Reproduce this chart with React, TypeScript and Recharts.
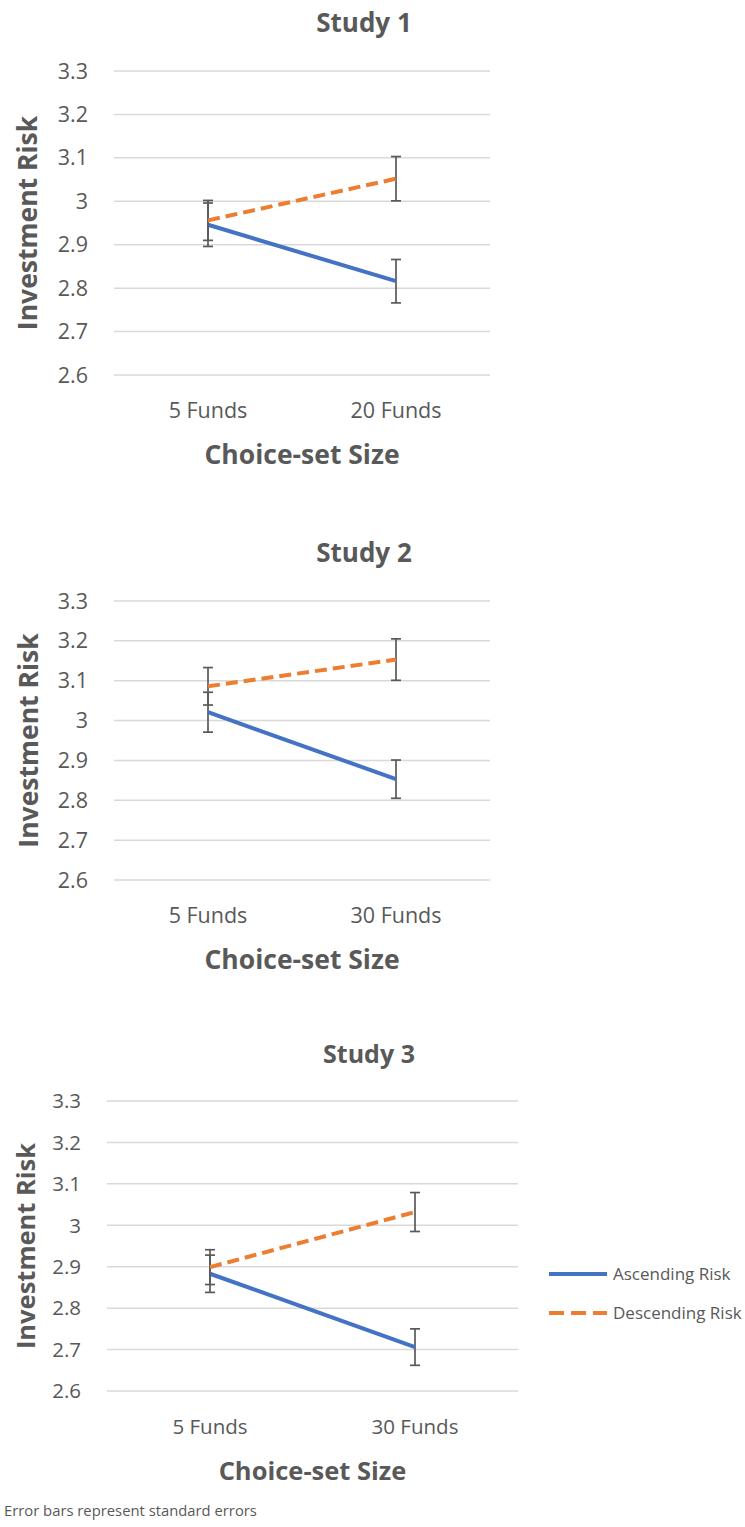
import React from 'react';
import { LineChart, Line, XAxis, YAxis, CartesianGrid, ErrorBar, Legend } from 'recharts';

// ---- data ----
const study1Categories = ['5 Funds', '20 Funds'];
const study1Ascending = [2.946, 2.816];
const study1AscendingErr = [0.05, 0.05];
const study1Descending = [2.956, 3.052];
const study1DescendingErr = [0.046, 0.051];

const study2Categories = ['5 Funds', '30 Funds'];
const study2Ascending = [3.021, 2.853];
const study2AscendingErr = [0.05, 0.048];
const study2Descending = [3.086, 3.153];
const study2DescendingErr = [0.047, 0.052];

const study3Categories = ['5 Funds', '30 Funds'];
const study3Ascending = [2.883, 2.706];
const study3AscendingErr = [0.045, 0.044];
const study3Descending = [2.899, 3.032];
const study3DescendingErr = [0.042, 0.047];

const yTicks = [2.6, 2.7, 2.8, 2.9, 3, 3.1, 3.2, 3.3];
const seriesNames = ['Ascending Risk', 'Descending Risk'];
const titles = ['Study 1', 'Study 2', 'Study 3'];
const xAxisTitle = 'Choice-set Size';
const yAxisTitle = 'Investment Risk';
const footnote = 'Error bars represent standard errors';

// ---- styles ----
const FONT = '"Open Sans", "Noto Sans", sans-serif';
const GRAY = '#595959';
const BLUE = '#4472C4';
const ORANGE = '#ED7D31';
const DASH = '12 6';

const build = (cats: string[], a: number[], ae: number[], d: number[], de: number[]) =>
  cats.map((c, i) => ({ cat: c, asc: a[i], ascErr: ae[i], desc: d[i], descErr: de[i] }));

const data1 = build(study1Categories, study1Ascending, study1AscendingErr, study1Descending, study1DescendingErr);
const data2 = build(study2Categories, study2Ascending, study2AscendingErr, study2Descending, study2DescendingErr);
const data3 = build(study3Categories, study3Ascending, study3AscendingErr, study3Descending, study3DescendingErr);

const fmt = (v: number) => String(Math.round(v * 10) / 10);

const renderLegend = (props: any) => {
  const payload = props.payload || [];
  return (
    <div style={{ fontFamily: FONT }}>
      {payload.map((entry: any, i: number) => {
        const dashed = entry.value === seriesNames[1];
        return (
          <div key={i} style={{ display: 'flex', alignItems: 'center', height: 39 }}>
            <svg width={60} height={10}>
              <line x1={1} y1={5} x2={59} y2={5} stroke={entry.color} strokeWidth={4}
                strokeDasharray={dashed ? '15 7' : undefined} />
            </svg>
            <span style={{ marginLeft: 5, fontSize: 17, color: GRAY, whiteSpace: 'nowrap' }}>{entry.value}</span>
          </div>
        );
      })}
    </div>
  );
};

interface StudyProps {
  data: any[];
  width: number;
  height: number;
  top: number;
  marginRight: number;
  yAxisWidth: number;
  xPad: number;
  yLabelX: number;
  tickFont: number;
  labelFont: number;
  showLegend?: boolean;
}

const StudyChart = (p: StudyProps) => (
  <div style={{ position: 'absolute', left: 0, top: p.top }}>
    <LineChart width={p.width} height={p.height} data={p.data}
      margin={{ top: 71, right: p.marginRight, left: 0, bottom: 0 }}>
      <CartesianGrid vertical={false} stroke="#D9D9D9" strokeWidth={1.5} />
      <XAxis dataKey="cat" type="category" axisLine={false} tickLine={false} tickSize={0} tickMargin={28}
        height={105} padding={{ left: p.xPad, right: p.xPad }}
        tick={{ fill: GRAY, fontSize: p.tickFont, fontFamily: FONT }}
        label={{
          content: (lp: any) => {
            const vb = lp.viewBox || {};
            const cx = vb.x + vb.width / 2;
            const cy = vb.y + 79;
            return (
              <text x={cx} y={cy} textAnchor="middle" dominantBaseline="central" fill={GRAY}
                fontFamily={FONT} fontWeight={700} fontSize={p.labelFont}>{xAxisTitle}</text>
            );
          },
        }} />
      <YAxis type="number" domain={[2.6, 3.3]} ticks={yTicks} interval={0} width={p.yAxisWidth}
        axisLine={false} tickLine={false} tickSize={0} tickMargin={26} tickFormatter={fmt}
        tick={{ fill: GRAY, fontSize: p.tickFont, fontFamily: FONT }}
        label={{
          content: (lp: any) => {
            const vb = lp.viewBox || {};
            const cx = p.yLabelX;
            const cy = vb.y + vb.height / 2;
            return (
              <text x={cx} y={cy} transform={`rotate(-90 ${cx} ${cy})`} textAnchor="middle"
                dominantBaseline="central" fill={GRAY} fontFamily={FONT} fontWeight={700}
                fontSize={p.labelFont}>{yAxisTitle}</text>
            );
          },
        }} />
      <Line dataKey="asc" name={seriesNames[0]} stroke={BLUE} strokeWidth={4} dot={false}
        activeDot={false} isAnimationActive={false}>
        <ErrorBar dataKey="ascErr" direction="y" width={5} stroke={GRAY} strokeWidth={1.7} />
      </Line>
      <Line dataKey="desc" name={seriesNames[1]} stroke={ORANGE} strokeWidth={4} strokeDasharray={DASH}
        dot={false} activeDot={false} isAnimationActive={false}>
        <ErrorBar dataKey="descErr" direction="y" width={5} stroke={GRAY} strokeWidth={1.7} />
      </Line>
      {p.showLegend ? (
        <Legend layout="vertical" align="center" verticalAlign="middle" content={renderLegend}
          wrapperStyle={{ position: 'absolute', left: 548, top: 224, width: 200, height: 80 }} />
      ) : null}
    </LineChart>
  </div>
);

const titleStyle = (cx: number, cy: number, size: number): React.CSSProperties => ({
  position: 'absolute', left: cx - 100, top: cy - 20, width: 200, height: 40, lineHeight: '40px',
  textAlign: 'center', fontFamily: FONT, fontWeight: 700, fontSize: size, color: GRAY,
});

export default function App() {
  return (
    <div style={{ position: 'absolute', left: 0, top: 0, width: 745, height: 1527, background: '#fff', overflow: 'hidden' }}>
      <div style={titleStyle(364, 22, 26)}>{titles[0]}</div>
      <StudyChart data={data1} width={500} height={480} top={0} marginRight={10} yAxisWidth={114}
        xPad={94} yLabelX={27} tickFont={21.5} labelFont={26.5} />
      <div style={titleStyle(364, 552, 26)}>{titles[1]}</div>
      <StudyChart data={data2} width={500} height={455} top={530} marginRight={10} yAxisWidth={114}
        xPad={94} yLabelX={28} tickFont={21.5} labelFont={26.5} />
      <div style={titleStyle(369, 1053, 25)}>{titles[2]}</div>
      <StudyChart data={data3} width={745} height={466} top={1030} marginRight={227} yAxisWidth={107}
        xPad={103} yLabelX={25} tickFont={20.5} labelFont={25.5} showLegend />
      <div style={{ position: 'absolute', left: 4, top: 1500, fontFamily: FONT, fontSize: 14.8, color: GRAY, whiteSpace: 'nowrap' }}>
        {footnote}
      </div>
    </div>
  );
}
